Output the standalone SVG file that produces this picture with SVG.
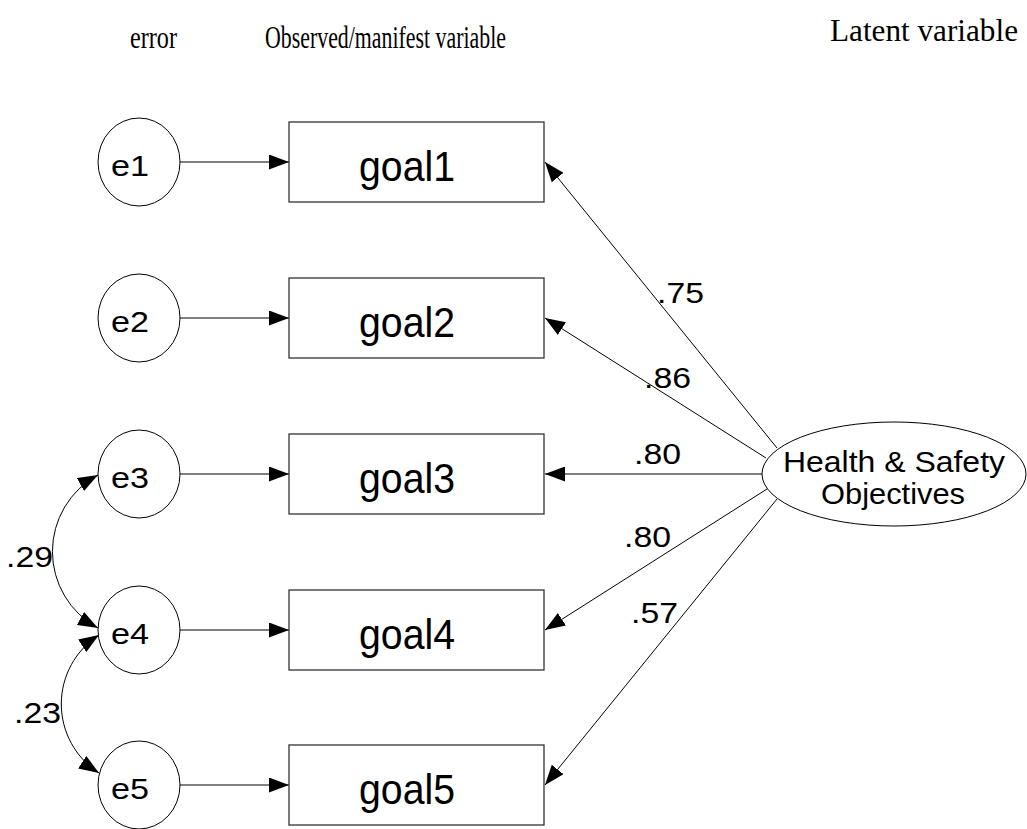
<svg xmlns="http://www.w3.org/2000/svg" width="1027" height="829" viewBox="0 0 1027 829">
  <style>
    .hdr { font-family: "Liberation Serif", "Times New Roman", serif; font-size: 31px; fill: #000; }
    .box { fill: #fff; stroke: #333; stroke-width: 1.3; }
    .err { fill: #fff; stroke: #000; stroke-width: 1; }
    .lat { fill: #fff; stroke: #000; stroke-width: 1; }
    .name { font-family: "Liberation Sans", Arial, sans-serif; font-size: 43px; fill: #000; }
    .ename { font-family: "Liberation Sans", Arial, sans-serif; font-size: 29px; fill: #000; }
    .lname { font-family: "Liberation Sans", Arial, sans-serif; font-size: 30px; fill: #000; }
    .coef { font-family: "Liberation Sans", Arial, sans-serif; font-size: 29px; fill: #000; }
    .edge { fill: none; stroke: #000; stroke-width: 1; }
  </style>
  <defs>
    <marker id="arrow" viewBox="0 0 20 15" refX="20" refY="7.5" markerWidth="20" markerHeight="15" markerUnits="userSpaceOnUse" orient="auto-start-reverse">
      <path d="M0,0 L20,7.5 L0,15 z" fill="#000"/>
    </marker>
  </defs>

  <rect width="1027" height="829" fill="#fff"/>

  <!-- column headings -->
  <g id="headings">
    <text class="hdr" x="130" y="48" textLength="47" lengthAdjust="spacingAndGlyphs">error</text>
    <text class="hdr" x="265" y="48" textLength="241" lengthAdjust="spacingAndGlyphs">Observed/manifest variable</text>
    <text class="hdr" x="830" y="41" textLength="188" lengthAdjust="spacingAndGlyphs">Latent  variable</text>
  </g>

  <!-- connectors -->
  <g id="connectors">
    <!-- error terms to indicators -->
    <line class="edge" x1="180" y1="162" x2="289" y2="162" marker-end="url(#arrow)"/>
    <line class="edge" x1="180" y1="318" x2="289" y2="318" marker-end="url(#arrow)"/>
    <line class="edge" x1="180" y1="474" x2="289" y2="474" marker-end="url(#arrow)"/>
    <line class="edge" x1="180" y1="630" x2="289" y2="630" marker-end="url(#arrow)"/>
    <line class="edge" x1="180" y1="785" x2="289" y2="785" marker-end="url(#arrow)"/>
    <!-- loadings from the latent factor -->
    <line class="edge" x1="777" y1="448" x2="545" y2="162" marker-end="url(#arrow)"/>
    <line class="edge" x1="766" y1="458" x2="545" y2="318" marker-end="url(#arrow)"/>
    <line class="edge" x1="762" y1="474" x2="545" y2="474" marker-end="url(#arrow)"/>
    <line class="edge" x1="767" y1="489" x2="545" y2="630" marker-end="url(#arrow)"/>
    <line class="edge" x1="777" y1="499" x2="545" y2="785" marker-end="url(#arrow)"/>
    <!-- error covariances -->
    <path class="edge" d="M98,475 A87,87 0 0,0 98,628" marker-start="url(#arrow)" marker-end="url(#arrow)"/>
    <path class="edge" d="M99,635 A82,82 0 0,0 99,773" marker-start="url(#arrow)" marker-end="url(#arrow)"/>
    <!-- coefficient labels -->
    <text class="coef" x="657" y="303" textLength="47" lengthAdjust="spacingAndGlyphs">.75</text>
    <text class="coef" x="644" y="388" textLength="47" lengthAdjust="spacingAndGlyphs">.86</text>
    <text class="coef" x="634" y="464" textLength="47" lengthAdjust="spacingAndGlyphs">.80</text>
    <text class="coef" x="624" y="547" textLength="47" lengthAdjust="spacingAndGlyphs">.80</text>
    <text class="coef" x="631" y="623" textLength="47" lengthAdjust="spacingAndGlyphs">.57</text>
    <text class="coef" x="6" y="567" textLength="47" lengthAdjust="spacingAndGlyphs">.29</text>
    <text class="coef" x="14" y="723" textLength="47" lengthAdjust="spacingAndGlyphs">.23</text>
  </g>

  <!-- error terms -->
  <g id="e1"><ellipse class="err" cx="139" cy="162" rx="41" ry="44"/><text class="ename" x="111" y="176" textLength="38" lengthAdjust="spacingAndGlyphs">e1</text></g>
  <g id="e2"><ellipse class="err" cx="139" cy="318" rx="41" ry="44"/><text class="ename" x="111" y="332" textLength="38" lengthAdjust="spacingAndGlyphs">e2</text></g>
  <g id="e3"><ellipse class="err" cx="139" cy="474" rx="41" ry="44"/><text class="ename" x="111" y="488" textLength="38" lengthAdjust="spacingAndGlyphs">e3</text></g>
  <g id="e4"><ellipse class="err" cx="139" cy="630" rx="41" ry="44"/><text class="ename" x="111" y="644" textLength="38" lengthAdjust="spacingAndGlyphs">e4</text></g>
  <g id="e5"><ellipse class="err" cx="139" cy="785" rx="41" ry="44"/><text class="ename" x="111" y="799" textLength="38" lengthAdjust="spacingAndGlyphs">e5</text></g>

  <!-- observed indicators -->
  <g id="goal1"><rect class="box" x="289" y="122" width="255" height="80"/><text class="name" x="359" y="181" textLength="96" lengthAdjust="spacingAndGlyphs">goal1</text></g>
  <g id="goal2"><rect class="box" x="289" y="278" width="255" height="80"/><text class="name" x="359" y="337" textLength="96" lengthAdjust="spacingAndGlyphs">goal2</text></g>
  <g id="goal3"><rect class="box" x="289" y="434" width="255" height="80"/><text class="name" x="359" y="493" textLength="96" lengthAdjust="spacingAndGlyphs">goal3</text></g>
  <g id="goal4"><rect class="box" x="289" y="590" width="255" height="80"/><text class="name" x="359" y="649" textLength="96" lengthAdjust="spacingAndGlyphs">goal4</text></g>
  <g id="goal5"><rect class="box" x="289" y="745" width="255" height="80"/><text class="name" x="359" y="804" textLength="96" lengthAdjust="spacingAndGlyphs">goal5</text></g>

  <!-- latent factor -->
  <g id="hso">
    <ellipse class="lat" cx="894" cy="474" rx="132" ry="52"/>
    <text class="lname" x="783" y="472" textLength="222" lengthAdjust="spacingAndGlyphs">Health &amp; Safety</text>
    <text class="lname" x="821" y="504" textLength="144" lengthAdjust="spacingAndGlyphs">Objectives</text>
  </g>
</svg>
